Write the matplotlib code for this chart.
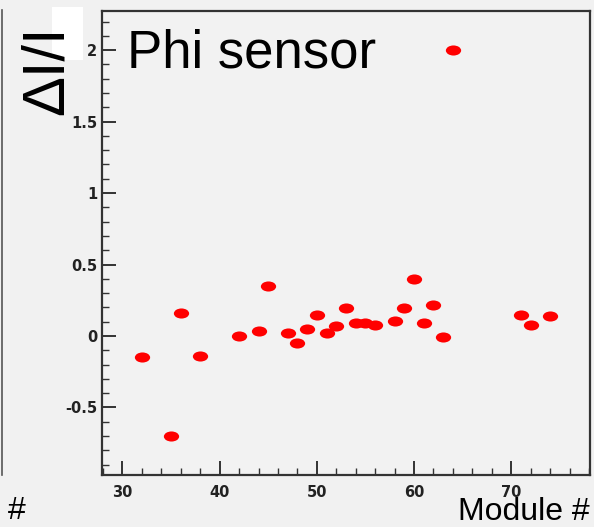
import numpy as np
import matplotlib
matplotlib.use("Agg")
import matplotlib.pyplot as plt
from matplotlib.path import Path
from matplotlib.transforms import Affine2D
from matplotlib.patches import Rectangle
from matplotlib.lines import Line2D
from matplotlib.ticker import MultipleLocator, FixedLocator, FixedFormatter

# ---- data ----
module = [32, 35, 36, 38, 42, 44, 45, 47, 48, 49, 50, 51, 52, 53, 54, 55, 56,
          58, 59, 60, 61, 62, 63, 64, 71, 72, 74]
delta_i = [-0.15, -0.70, 0.16, -0.14, 0.00, 0.035, 0.35, 0.02, -0.05, 0.05,
           0.148, 0.018, 0.07, 0.198, 0.09, 0.09, 0.077, 0.108, 0.198, 0.40,
           0.089, 0.218, -0.01, 2.0, 0.148, 0.077, 0.14]
x_ticks = [30, 40, 50, 60, 70]
x_labels = ["30", "40", "50", "60", "70"]
y_ticks = [-0.5, 0, 0.5, 1, 1.5, 2]
y_labels = ["-0.5", "0", "0.5", "1", "1.5", "2"]
title_text = "Phi sensor"
y_title = "ΔI/I"
x_title = "Module #"

W, H = 594, 527
plt.rcParams['font.family'] = ['Liberation Sans', 'DejaVu Sans']
plt.rcParams['axes.unicode_minus'] = False

fig = plt.figure(figsize=(W / 100, H / 100), dpi=100)
fig.patch.set_facecolor('#f1f1f1')

def fx(px):
    return px / W

def fy(py):
    return 1 - py / H

ax = fig.add_axes([fx(102), fy(475), fx(590) - fx(102), fy(11) - fy(475)])
ax.set_facecolor('#f2f2f2')

ell = Path.unit_circle().transformed(Affine2D().scale(1, 0.66))
ax.plot(module, delta_i, linestyle='none', marker=ell, markersize=11,
        markerfacecolor='#ff0000', markeredgewidth=0, color='#ff0000')

ax.set_xlim(27.9, 78.1)
ax.set_ylim(-0.973, 2.274)

ax.xaxis.set_major_locator(FixedLocator(x_ticks))
ax.xaxis.set_major_formatter(FixedFormatter(x_labels))
ax.xaxis.set_minor_locator(MultipleLocator(2))
ax.yaxis.set_major_locator(FixedLocator(y_ticks))
ax.yaxis.set_major_formatter(FixedFormatter(y_labels))
ax.yaxis.set_minor_locator(MultipleLocator(0.1))

ax.tick_params(which='both', direction='in', top=False, right=False,
               color='#333333')
ax.tick_params(which='major', length=10, width=1.4, labelsize=10.5,
               labelcolor='#222222')
ax.tick_params(axis='y', which='major', pad=3.5)
ax.tick_params(axis='x', which='major', pad=7)
ax.tick_params(which='minor', length=5.3, width=1.0)
for lab in ax.get_xticklabels() + ax.get_yticklabels():
    lab.set_fontfamily('DejaVu Sans')
    lab.set_fontweight('bold')
for s in ax.spines.values():
    s.set_linewidth(1.6)
    s.set_color('#333333')

# white patch behind y title
fig.patches.append(Rectangle((fx(52), fy(60)), fx(83) - fx(52), fy(7) - fy(60),
                             transform=fig.transFigure, facecolor='white',
                             edgecolor='none', zorder=0))
# left border line fragment
fig.lines.append(Line2D([fx(1.5), fx(1.5)], [fy(10), fy(475)],
                        transform=fig.transFigure, color='#555555', lw=1.2))

fig.text(fx(127), fy(68), title_text, fontsize=38, ha='left', va='baseline',
         color='black')
fig.text(fx(47), fy(70), y_title, fontsize=43, rotation=90, ha='center',
         va='center', color='black')
fig.text(fx(590), fy(520), x_title, fontsize=23, ha='right', va='baseline',
         color='black')
fig.text(fx(8), fy(519), "#", fontsize=23, ha='left', va='baseline',
         color='black')

fig.savefig('out.png', dpi=100, facecolor=fig.get_facecolor())
